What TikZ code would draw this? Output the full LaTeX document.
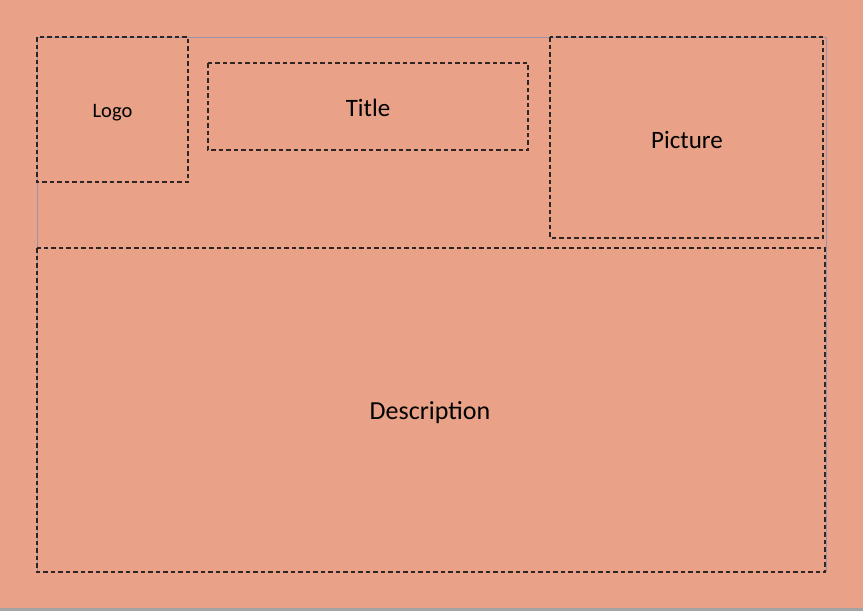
\documentclass[tikz,border=0pt]{standalone}
\usepackage{fontspec}
\setmainfont{Carlito}
\definecolor{bgsalmon}{HTML}{E9A288}
\definecolor{pageline}{HTML}{9A93AE}
\definecolor{stripgray}{HTML}{A3A3A3}
\definecolor{dashcol}{HTML}{2E2626}
\begin{document}
\begin{tikzpicture}[x=1pt,y=-1pt,
  region/.style={draw=dashcol, line width=1.1pt, dash pattern=on 4.5pt off 3pt, fill=none},
  lbl/.style={font=\fontsize{25}{29}\selectfont, text=black, inner sep=0pt}]
\useasboundingbox (0,0) rectangle (863,611);
\fill[bgsalmon] (0,0) rectangle (863,611);
\fill[stripgray] (0,608) rectangle (863,611);
\draw[pageline, line width=1pt] (37,572) -- (37,37) -- (826,37) -- (826,572);
\draw[region] (37,37) rectangle (188,182);
\draw[region] (208,63) rectangle (528,150);
\draw[region] (550,37) rectangle (823,238);
\draw[region] (37,248) rectangle (825,572);
\node[lbl, font=\fontsize{20.5}{24}\selectfont] (logo) at (112.5,113) {Logo};
\node[lbl] (title) at (368,108) {Title};
\node[lbl] (picture) at (687,140) {Picture};
\node[lbl, font=\fontsize{26}{30}\selectfont] (desc) at (430,413) {Description};
\end{tikzpicture}
\end{document}
